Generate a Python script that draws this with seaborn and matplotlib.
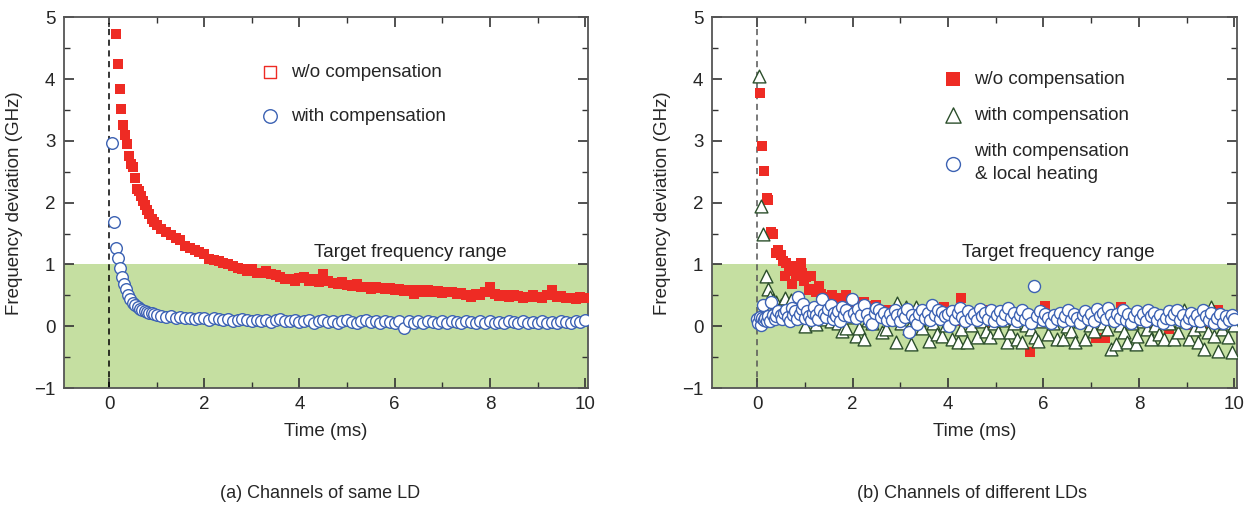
import matplotlib
matplotlib.use("Agg")
import matplotlib.pyplot as plt
from matplotlib.ticker import MultipleLocator
import seaborn as sns

# ---- (a) channels of same LD ----
a_t_red = [0.15, 0.19, 0.23, 0.26, 0.30, 0.34, 0.38, 0.42, 0.46, 0.50, 0.54, 0.58, 0.63, 0.67, 0.72,
           0.76, 0.80, 0.85, 0.90, 0.95, 1.0, 1.1, 1.2, 1.3, 1.4, 1.5, 1.6, 1.7, 1.8, 1.9,
           2.0, 2.1, 2.2, 2.3, 2.4, 2.5, 2.6, 2.7, 2.8, 2.9, 3.0, 3.1, 3.2, 3.3, 3.4,
           3.5, 3.6, 3.7, 3.8, 3.9, 4.0, 4.1, 4.2, 4.3, 4.4, 4.5, 4.6, 4.7, 4.8, 4.9,
           5.0, 5.1, 5.2, 5.3, 5.4, 5.5, 5.6, 5.7, 5.8, 5.9, 6.0, 6.1, 6.2, 6.3, 6.4,
           6.5, 6.6, 6.7, 6.8, 6.9, 7.0, 7.1, 7.2, 7.3, 7.4, 7.5, 7.6, 7.7, 7.8, 7.9,
           8.0, 8.1, 8.2, 8.3, 8.4, 8.5, 8.6, 8.7, 8.8, 8.9, 9.0, 9.1, 9.2, 9.3, 9.4,
           9.5, 9.6, 9.7, 9.8, 9.9, 10.0]
a_red = [4.73, 4.24, 3.84, 3.51, 3.26, 3.09, 2.95, 2.76, 2.62, 2.57, 2.40, 2.22, 2.19, 2.11, 2.03,
         1.96, 1.88, 1.82, 1.73, 1.68, 1.64, 1.57, 1.52, 1.47, 1.43, 1.39, 1.30, 1.27, 1.24, 1.20,
         1.17, 1.09, 1.08, 1.06, 1.03, 1.01, 0.97, 0.95, 0.93, 0.90, 0.92, 0.87, 0.86, 0.89, 0.84,
         0.83, 0.80, 0.76, 0.77, 0.74, 0.78, 0.80, 0.74, 0.76, 0.72, 0.85, 0.73, 0.70, 0.69, 0.72,
         0.67, 0.66, 0.68, 0.63, 0.64, 0.61, 0.64, 0.62, 0.60, 0.62, 0.59, 0.60, 0.57, 0.59, 0.53,
         0.58, 0.56, 0.58, 0.55, 0.57, 0.54, 0.56, 0.55, 0.52, 0.54, 0.50, 0.47, 0.52, 0.51, 0.55,
         0.63, 0.52, 0.49, 0.50, 0.48, 0.51, 0.49, 0.46, 0.47, 0.50, 0.48, 0.46, 0.50, 0.58, 0.47,
         0.49, 0.45, 0.46, 0.44, 0.47, 0.45]

a_t_blue = [0.07, 0.11, 0.15, 0.19, 0.23, 0.27, 0.31, 0.35, 0.40, 0.45, 0.50, 0.55, 0.60, 0.65, 0.70,
            0.75, 0.80, 0.85, 0.90, 0.95, 1.0, 1.1, 1.2, 1.3, 1.4, 1.5, 1.6, 1.7, 1.8, 1.9,
            2.0, 2.1, 2.2, 2.3, 2.4, 2.5, 2.6, 2.7, 2.8, 2.9, 3.0, 3.1, 3.2, 3.3, 3.4,
            3.5, 3.6, 3.7, 3.8, 3.9, 4.0, 4.1, 4.2, 4.3, 4.4, 4.5, 4.6, 4.7, 4.8, 4.9,
            5.0, 5.1, 5.2, 5.3, 5.4, 5.5, 5.6, 5.7, 5.8, 5.9, 6.0, 6.1, 6.2, 6.3, 6.4,
            6.5, 6.6, 6.7, 6.8, 6.9, 7.0, 7.1, 7.2, 7.3, 7.4, 7.5, 7.6, 7.7, 7.8, 7.9,
            8.0, 8.1, 8.2, 8.3, 8.4, 8.5, 8.6, 8.7, 8.8, 8.9, 9.0, 9.1, 9.2, 9.3, 9.4,
            9.5, 9.6, 9.7, 9.8, 9.9, 10.0]
a_blue = [2.97, 1.69, 1.27, 1.10, 0.94, 0.79, 0.69, 0.60, 0.51, 0.44, 0.38, 0.34, 0.31, 0.28, 0.26,
          0.25, 0.23, 0.22, 0.21, 0.20, 0.18, 0.17, 0.15, 0.16, 0.14, 0.15, 0.13, 0.14, 0.12, 0.14,
          0.13, 0.11, 0.13, 0.12, 0.10, 0.12, 0.09, 0.11, 0.12, 0.10, 0.08, 0.11, 0.09, 0.10, 0.07,
          0.10, 0.12, 0.08, 0.09, 0.11, 0.07, 0.09, 0.10, 0.06, 0.08, 0.11, 0.07, 0.09, 0.06, 0.08,
          0.10, 0.07, 0.05, 0.08, 0.10, 0.07, 0.08, 0.05, 0.09, 0.07, 0.06, 0.09, -0.02, 0.08, 0.05,
          0.08, 0.06, 0.09, 0.07, 0.05, 0.08, 0.06, 0.09, 0.07, 0.05, 0.08, 0.07, 0.06, 0.09, 0.06,
          0.08, 0.05, 0.07, 0.06, 0.09, 0.07, 0.06, 0.08, 0.05, 0.07, 0.06, 0.08, 0.05, 0.07, 0.06,
          0.09, 0.07, 0.06, 0.08, 0.07, 0.10]

# ---- (b) channels of different LDs ----
b_t_red = [0.06, 0.11, 0.15, 0.20, 0.23, 0.30, 0.34, 0.40, 0.44, 0.49, 0.55, 0.59, 0.61, 0.66, 0.70,
           0.72, 0.77, 0.82, 0.86, 0.91, 0.93, 0.98, 1.03, 1.08, 1.12, 1.18, 1.24, 1.29, 1.33, 1.40,
           1.47, 1.56, 1.62, 1.70, 1.77, 1.86, 1.93, 1.98, 2.07, 2.15, 2.24, 2.32, 2.40, 2.49, 2.58,
           2.66, 2.76, 2.83, 2.95, 3.05, 3.15, 3.25, 3.33, 3.45, 3.52, 3.61, 3.72, 3.80, 3.92, 4.03,
           4.15, 4.28, 4.40, 4.52, 4.65, 4.75, 4.83, 4.95, 5.08, 5.20, 5.32, 5.45, 5.58, 5.72, 5.85,
           5.95, 6.03, 6.15, 6.24, 6.38, 6.50, 6.62, 6.75, 6.88, 7.00, 7.09, 7.18, 7.28, 7.40, 7.52,
           7.62, 7.75, 7.88, 8.00, 8.12, 8.25, 8.38, 8.50, 8.62, 8.75, 8.88, 9.00, 9.12, 9.25, 9.38,
           9.50, 9.66, 9.78, 9.94]
b_red = [3.77, 2.92, 2.52, 2.07, 2.04, 1.52, 1.50, 1.18, 1.23, 1.15, 1.05, 0.82, 1.03, 0.98, 0.95,
         0.69, 0.90, 0.82, 0.97, 1.02, 0.87, 0.74, 0.79, 0.58, 0.82, 0.60, 0.55, 0.66, 0.53, 0.45,
         0.48, 0.50, 0.42, 0.38, 0.45, 0.50, 0.36, 0.42, 0.40, 0.30, 0.39, 0.28, 0.33, 0.34, 0.22,
         0.27, 0.26, 0.26, 0.18, 0.24, 0.15, 0.20, 0.21, 0.12, 0.18, 0.24, 0.10, 0.16, 0.31, 0.20,
         0.08, 0.45, 0.14, 0.10, 0.18, 0.06, 0.27, 0.12, 0.18, 0.08, 0.14, 0.22, 0.10, -0.42, 0.16,
         0.12, 0.33, 0.08, 0.15, 0.20, 0.06, 0.12, 0.18, 0.08, 0.14, -0.19, 0.10, -0.19, 0.15, 0.08,
         0.31, 0.12, 0.05, 0.16, 0.10, 0.02, 0.14, 0.08, -0.05, 0.12, 0.05, 0.15, 0.02, 0.08, 0.12,
         0.06, 0.26, 0.04, 0.15]

b_t_tri = [0.03, 0.08, 0.13, 0.19, 0.23, 0.27, 0.33, 0.40, 0.49, 0.55, 0.59, 0.65, 0.70, 0.78, 0.85,
           0.92, 1.01, 1.08, 1.15, 1.24, 1.32, 1.40, 1.47, 1.54, 1.62, 1.70, 1.77, 1.86, 1.95, 2.07,
           2.13, 2.24, 2.32, 2.40, 2.50, 2.62, 2.70, 2.80, 2.91, 2.93, 3.02, 3.12, 3.19, 3.23, 3.33,
           3.40, 3.46, 3.53, 3.61, 3.68, 3.76, 3.82, 3.88, 3.95, 4.03, 4.09, 4.20, 4.28, 4.39, 4.48,
           4.60, 4.70, 4.79, 4.87, 4.96, 5.05, 5.15, 5.23, 5.30, 5.38, 5.44, 5.55, 5.64, 5.73, 5.82,
           5.89, 5.96, 6.10, 6.20, 6.29, 6.41, 6.50, 6.58, 6.67, 6.76, 6.88, 6.98, 7.05, 7.15, 7.25,
           7.33, 7.41, 7.51, 7.60, 7.68, 7.76, 7.85, 7.93, 7.97, 8.08, 8.16, 8.25, 8.34, 8.43, 8.52,
           8.62, 8.73, 8.81, 8.88, 8.95, 9.05, 9.15, 9.24, 9.30, 9.37, 9.44, 9.51, 9.58, 9.66, 9.75,
           9.81, 9.87, 9.94, 10.0]
b_tri = [4.05, 1.95, 1.50, 0.82, 0.60, 0.48, 0.42, 0.40, 0.34, 0.30, 0.46, 0.25, 0.43, 0.28, 0.20,
         0.32, 0.00, 0.22, 0.15, 0.03, 0.25, 0.12, 0.30, 0.08, 0.18, 0.05, -0.08, -0.02, 0.15, -0.16,
         -0.02, -0.20, 0.10, 0.05, 0.18, -0.10, -0.05, 0.12, -0.26, 0.37, 0.05, 0.31, -0.02, -0.29, 0.31,
         0.10, -0.02, 0.15, -0.24, 0.05, -0.13, 0.18, -0.16, 0.02, 0.10, -0.21, -0.26, -0.05, -0.26, 0.02,
         -0.18, 0.08, -0.08, -0.18, 0.05, -0.10, 0.10, -0.26, -0.10, 0.05, -0.21, -0.26, 0.02, -0.05, -0.18,
         -0.23, 0.08, -0.13, 0.05, -0.21, -0.21, 0.00, -0.08, -0.26, 0.08, -0.21, 0.02, -0.08, 0.22, 0.05,
         -0.05, -0.37, -0.29, 0.02, -0.10, -0.26, 0.05, -0.29, -0.16, 0.08, -0.05, -0.21, 0.02, -0.12, -0.21,
         0.05, -0.21, -0.10, 0.08, 0.27, -0.21, -0.05, -0.26, 0.02, -0.37, -0.10, 0.31, -0.15, -0.40, -0.05,
         0.05, -0.18, -0.42, 0.02]

b_t_circ = [0.00, 0.02, 0.05, 0.08, 0.10, 0.13, 0.15, 0.17, 0.20, 0.23, 0.27, 0.30, 0.33, 0.37, 0.40,
            0.44, 0.49, 0.53, 0.57, 0.61, 0.65, 0.69, 0.72, 0.76, 0.80, 0.84, 0.86, 0.90, 0.94, 0.97,
            1.01, 1.05, 1.08, 1.12, 1.16, 1.20, 1.24, 1.28, 1.32, 1.35, 1.40, 1.44, 1.48, 1.54, 1.58,
            1.62, 1.65, 1.70, 1.74, 1.77, 1.82, 1.87, 1.92, 1.98, 2.02, 2.08, 2.12, 2.18, 2.24, 2.30,
            2.35, 2.41, 2.46, 2.50, 2.55, 2.60, 2.66, 2.72, 2.78, 2.83, 2.88, 2.94, 3.00, 3.05, 3.10,
            3.15, 3.19, 3.24, 3.30, 3.35, 3.40, 3.46, 3.52, 3.58, 3.63, 3.67, 3.72, 3.78, 3.83, 3.88,
            3.94, 4.00, 4.03, 4.08, 4.14, 4.20, 4.25, 4.30, 4.36, 4.42, 4.48, 4.54, 4.60, 4.66, 4.72,
            4.78, 4.84, 4.90, 4.96, 5.02, 5.08, 5.14, 5.20, 5.26, 5.32, 5.38, 5.44, 5.50, 5.56, 5.62,
            5.68, 5.74, 5.80, 5.86, 5.92, 5.98, 6.04, 6.10, 6.16, 6.22, 6.28, 6.34, 6.40, 6.46, 6.52,
            6.58, 6.64, 6.70, 6.76, 6.82, 6.88, 6.94, 7.00, 7.06, 7.12, 7.18, 7.24, 7.30, 7.36, 7.42,
            7.48, 7.54, 7.60, 7.66, 7.72, 7.78, 7.84, 7.90, 7.96, 8.02, 8.08, 8.14, 8.20, 8.26, 8.32,
            8.38, 8.44, 8.50, 8.56, 8.62, 8.68, 8.74, 8.80, 8.86, 8.92, 8.98, 9.04, 9.10, 9.16, 9.22,
            9.28, 9.34, 9.40, 9.46, 9.52, 9.58, 9.64, 9.70, 9.76, 9.82, 9.88, 9.94, 10.0]
b_circ = [0.12, 0.05, 0.15, 0.02, 0.13, 0.35, 0.10, 0.14, 0.08, 0.17, 0.08, 0.40, 0.18, 0.12, 0.16,
          0.25, 0.19, 0.12, 0.22, 0.26, 0.15, 0.08, 0.30, 0.18, 0.24, 0.12, 0.48, 0.20, 0.28, 0.36,
          0.14, 0.24, 0.16, 0.10, 0.22, 0.31, 0.18, 0.12, 0.26, 0.44, 0.20, 0.15, 0.28, 0.35, 0.12,
          0.22, 0.16, 0.25, 0.09, 0.32, 0.18, 0.26, 0.16, 0.44, 0.22, 0.13, 0.28, 0.18, 0.35, 0.20,
          0.10, 0.03, 0.22, 0.30, 0.27, 0.15, 0.22, 0.10, 0.20, 0.11, 0.26, 0.18, 0.08, 0.22, 0.15,
          0.28, -0.10, 0.18, 0.12, 0.03, 0.20, 0.26, 0.14, 0.22, 0.10, 0.35, 0.18, 0.26, 0.12, 0.23,
          0.16, 0.20, 0.00, 0.25, 0.12, 0.22, 0.30, 0.15, 0.08, 0.24, 0.14, 0.20, 0.10, 0.28, 0.16,
          0.22, 0.12, 0.26, 0.08, 0.18, 0.24, 0.10, 0.20, 0.30, 0.14, 0.22, 0.08, 0.18, 0.26, 0.12,
          0.20, 0.06, 0.66, 0.16, 0.24, 0.10, 0.20, 0.14, 0.05, 0.18, 0.12, 0.22, 0.08, 0.16, 0.26,
          0.10, 0.20, 0.14, 0.05, 0.18, 0.24, 0.12, 0.20, 0.08, 0.28, 0.16, 0.22, 0.12, 0.30, 0.18,
          0.08, 0.20, 0.14, 0.26, 0.10, 0.20, 0.06, 0.16, 0.24, 0.12, 0.20, 0.08, 0.26, 0.16, 0.22,
          0.10, 0.18, 0.05, 0.14, 0.24, 0.12, 0.20, 0.26, 0.10, 0.18, 0.06, 0.14, 0.22, 0.10, 0.18,
          0.08, 0.27, 0.16, 0.10, 0.22, 0.06, 0.14, 0.20, 0.05, 0.16, 0.10, 0.18, 0.12]

RED = "#ee2b24"
BLUE = "#3c62b3"
GREEN_EDGE = "#2c4f2c"
BAND = "#c5dfa1"

sns.set_style("ticks")
plt.rcParams["font.family"] = ["Liberation Sans", "DejaVu Sans"]
plt.rcParams["font.size"] = 13.5
plt.rcParams["axes.unicode_minus"] = True

fig = plt.figure(figsize=(12.51, 5.08), dpi=100)
ax1 = fig.add_axes([0.051, 0.236, 0.419, 0.730])
ax2 = fig.add_axes([0.569, 0.236, 0.420, 0.730])


def style_axes(ax, vline_color):
    ax.set_xlim(-0.95, 10.06)
    ax.set_ylim(-1, 5)
    ax.axhspan(-1, 1, color=BAND, zorder=0, lw=0)
    ax.plot([0, 0], [-1, 4.9], ls=(0, (4, 3)), color=vline_color, lw=1.1, zorder=1)
    ax.text(4.3, 1.12, "Target frequency range", fontsize=13.5, color="#222222")
    ax.xaxis.set_major_locator(MultipleLocator(2))
    ax.xaxis.set_minor_locator(MultipleLocator(1))
    ax.yaxis.set_major_locator(MultipleLocator(1))
    ax.yaxis.set_minor_locator(MultipleLocator(0.5))
    ax.tick_params(which="both", direction="in", top=True, right=True, color="#333333",
                   labelsize=13.5, pad=6)
    ax.tick_params(which="major", length=7, width=1.2)
    ax.tick_params(which="minor", length=4, width=1.0)
    for s in ax.spines.values():
        s.set_color("#555555")
        s.set_linewidth(1.3)
    ax.set_xlabel("Time (ms)", fontsize=13.5, labelpad=7)
    ax.set_ylabel("Frequency deviation (GHz)", fontsize=13.5, labelpad=8)


style_axes(ax1, "black")
style_axes(ax2, "#555555")

# panel (a)
sns.scatterplot(x=a_t_red, y=a_red, marker="s", color=RED, edgecolor=RED, s=42, linewidth=0,
                ax=ax1, zorder=3, label="w/o compensation")
sns.scatterplot(x=a_t_blue, y=a_blue, marker="o", color="white", edgecolor=BLUE, s=70,
                linewidth=1.0, ax=ax1, zorder=4, label="with compensation")
leg1 = ax1.legend(loc="upper left", bbox_to_anchor=(0.343, 0.895), frameon=False,
                  fontsize=13.5, labelspacing=1.45, handletextpad=0.15, borderaxespad=0)
# legend square drawn open in (a)
h = leg1.legend_handles
h[0].set_facecolor("white")
h[0].set_edgecolor(RED)
h[0].set_linewidth(1.0)
h[0].set_sizes([80])
h[1].set_sizes([95])

# panel (b)
sns.scatterplot(x=b_t_red, y=b_red, marker="s", color=RED, edgecolor=RED, s=48, linewidth=0,
                ax=ax2, zorder=3, label="w/o compensation")
sns.scatterplot(x=b_t_tri, y=b_tri, marker="^", color="white", edgecolor=GREEN_EDGE, s=85,
                linewidth=1.0, ax=ax2, zorder=4, label="with compensation")
sns.scatterplot(x=b_t_circ, y=b_circ, marker="o", color="white", edgecolor=BLUE, s=75,
                linewidth=1.0, ax=ax2, zorder=5, label="with compensation\n& local heating")
leg2 = ax2.legend(loc="upper left", bbox_to_anchor=(0.409, 0.875), frameon=False,
                  fontsize=13.5, labelspacing=1.0, handletextpad=0.15, borderaxespad=0)
for hh, sz in zip(leg2.legend_handles, [100, 120, 100]):
    hh.set_sizes([sz])
for t in leg2.get_texts():
    t.set_linespacing(1.45)

fig.text(0.256, 0.02, "(a) Channels of same LD", ha="center", fontsize=13)
fig.text(0.777, 0.02, "(b) Channels of different LDs", ha="center", fontsize=13)

fig.savefig("out.png", dpi=100)
